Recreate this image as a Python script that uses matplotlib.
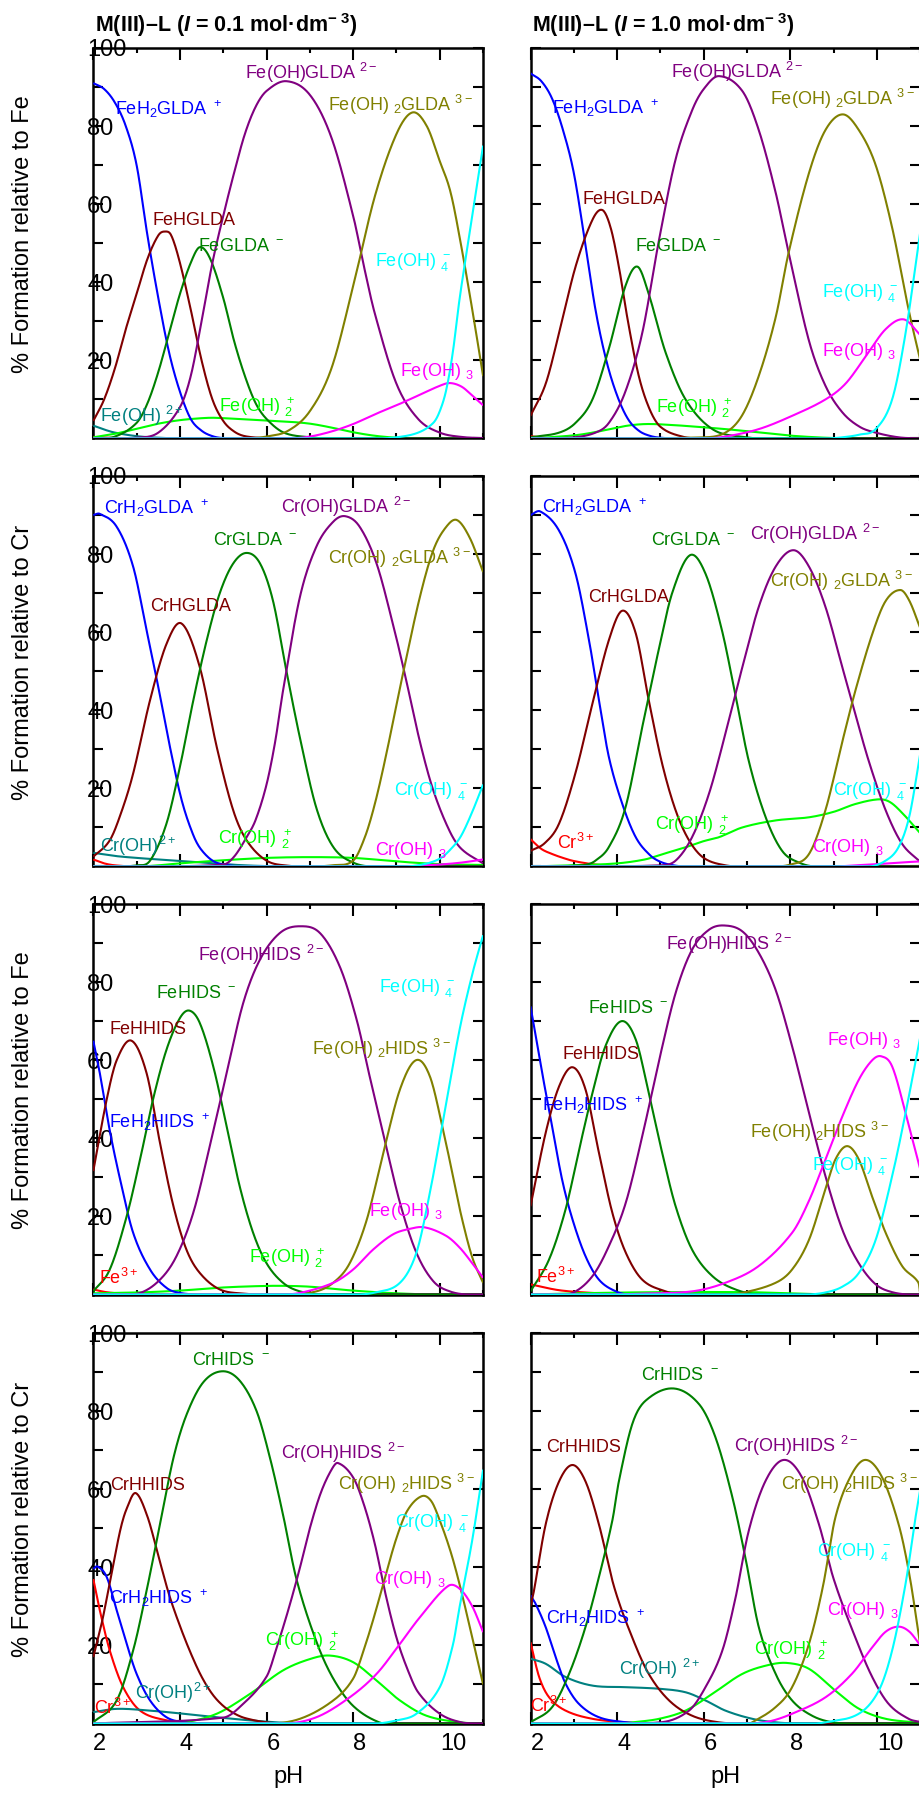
import numpy as np
import matplotlib
matplotlib.use("Agg")
import matplotlib.pyplot as plt
from matplotlib.ticker import MultipleLocator, FuncFormatter

plt.rcParams['font.family'] = ['Liberation Sans', 'DejaVu Sans']
plt.rcParams['mathtext.fontset'] = 'custom'
plt.rcParams['mathtext.rm'] = 'Liberation Sans'
plt.rcParams['mathtext.sf'] = 'Liberation Sans'
plt.rcParams['mathtext.it'] = 'Liberation Sans:italic:bold'
plt.rcParams['mathtext.bf'] = 'Liberation Sans:bold'

# ------------------------------------------------------------------
# Data: (pH, % formation) pairs per species
# ------------------------------------------------------------------
# --- Fe / GLDA, I = 0.1 ---
FeGLDA01_M = [(2.0, 0.4), (2.5, 0.1), (3.0, 0)]
FeGLDA01_MOH = [(2.0, 3.3), (2.25, 2.3), (2.5, 1.5), (3.0, 0.6), (3.5, 0.2), (4.0, 0.05), (4.5, 0)]
FeGLDA01_MOH2 = [(2.0, 0.3), (2.5, 1.2), (3.0, 2.5), (3.5, 3.8), (4.0, 4.7), (4.5, 5.2), (4.8, 5.3),
                 (5.5, 4.9), (6.0, 4.6), (6.5, 4.3), (7.0, 3.8), (7.5, 2.8), (8.0, 1.6), (8.5, 0.7),
                 (9.0, 0.2), (9.5, 0)]
FeGLDA01_H2L = [(2.0, 91), (2.25, 89.5), (2.5, 86), (2.75, 80), (3.0, 70), (3.25, 52), (3.5, 36),
                (3.75, 22), (4.0, 12), (4.25, 5), (4.5, 2), (4.75, 0.6), (5.0, 0.1), (5.5, 0)]
FeGLDA01_HL = [(2.0, 4.5), (2.25, 10), (2.5, 18), (2.75, 28), (3.0, 37), (3.25, 46), (3.5, 52),
               (3.65, 53), (3.8, 52), (4.0, 45), (4.25, 33), (4.5, 20), (4.75, 10), (5.0, 4.5),
               (5.25, 1.8), (5.5, 0.6), (6.0, 0.1), (6.5, 0)]
FeGLDA01_L = [(2.0, 0), (2.5, 0.5), (3.0, 4), (3.25, 9), (3.5, 17), (3.75, 27), (4.0, 37), (4.25, 45),
              (4.46, 49), (4.7, 46), (5.0, 36), (5.25, 25), (5.5, 16), (5.75, 9), (6.0, 5), (6.4, 1.5),
              (7.0, 0.3), (7.5, 0)]
FeGLDA01_MOHL = [(3.0, 0.2), (3.5, 1.5), (4.0, 8), (4.25, 16), (4.5, 30), (4.75, 45), (5.0, 57),
                 (5.25, 68), (5.5, 78), (5.75, 85), (6.0, 89), (6.46, 91.5), (7.0, 88), (7.5, 77),
                 (8.0, 57), (8.25, 44), (8.5, 32), (9.0, 14), (9.5, 5), (10.0, 1.5), (10.5, 0.4),
                 (11.0, 0.1)]
FeGLDA01_MOH2L = [(5.5, 0), (6.0, 0.5), (6.5, 2), (7.0, 7), (7.5, 18), (8.0, 39), (8.5, 62), (9.0, 78),
                  (9.37, 83.5), (9.7, 80), (10.0, 71), (10.25, 63), (10.5, 49), (10.75, 33), (11.0, 16)]
FeGLDA01_MOH3 = [(6.5, 0), (7.0, 0.5), (7.5, 1.8), (8.0, 3.7), (8.5, 6.2), (9.0, 8.5), (9.5, 11),
                 (10.0, 13.5), (10.23, 14.2), (10.5, 13.3), (10.75, 11), (11.0, 8.5)]
FeGLDA01_MOH4 = [(8.5, 0), (9.0, 0.3), (9.5, 1.5), (9.85, 4), (10.0, 7), (10.15, 12.5), (10.3, 22),
                 (10.46, 36), (10.75, 57), (11.0, 75)]

# --- Fe / GLDA, I = 1.0 ---
FeGLDA10_M = [(2.0, 0.6), (2.4, 0.1), (3.0, 0)]
FeGLDA10_MOH2 = [(2.0, 0), (3.0, 0.8), (3.43, 1.5), (4.19, 3.2), (4.66, 3.7), (5.2, 3.5), (5.73, 3.1),
                 (6.3, 2.6), (6.89, 2.0), (7.5, 1.3), (8.04, 0.7), (8.8, 0.2), (9.5, 0)]
FeGLDA10_H2L = [(2.0, 93.5), (2.25, 91.5), (2.5, 87), (2.75, 79), (3.0, 68), (3.25, 51), (3.5, 33),
                (3.75, 20), (4.0, 11), (4.25, 5), (4.5, 2), (4.75, 0.7), (5.0, 0.2), (5.5, 0)]
FeGLDA10_HL = [(2.0, 5.8), (2.35, 14), (2.66, 27), (3.04, 44), (3.43, 56), (3.66, 58.5), (3.85, 54),
               (4.04, 44), (4.25, 30), (4.5, 16), (4.75, 7.5), (5.0, 3), (5.5, 0.5), (6.0, 0)]
FeGLDA10_L = [(2.0, 0.3), (2.66, 1.5), (3.04, 4), (3.43, 10), (3.81, 23), (4.19, 39), (4.47, 44),
              (4.73, 37), (5.12, 22), (5.58, 10), (6.2, 2.4), (6.9, 0.4), (7.5, 0)]
FeGLDA10_MOHL = [(3.0, 0.3), (3.5, 1.5), (3.81, 4), (4.19, 12), (4.58, 27), (4.97, 51), (5.35, 71.5),
                 (5.73, 84), (6.0, 89.5), (6.35, 92.8), (6.89, 89), (7.27, 79), (7.66, 63), (7.96, 47.6),
                 (8.43, 25), (8.81, 13.5), (9.2, 6.7), (9.6, 3), (9.97, 1.5), (10.5, 0.3), (11.0, 0)]
FeGLDA10_MOH2L = [(6.0, 0.3), (6.5, 1.5), (6.89, 6), (7.27, 16), (7.66, 31), (7.96, 47.6), (8.43, 68),
                  (8.81, 79), (9.21, 83), (9.58, 79), (9.97, 70), (10.35, 54), (10.73, 33), (11.0, 20)]
FeGLDA10_MOH3 = [(6.0, 0), (6.5, 0.5), (7.27, 2.4), (8.04, 5.8), (8.81, 10), (9.27, 14), (9.74, 21),
                 (10.2, 28), (10.62, 30.5), (11.0, 26.5)]
FeGLDA10_MOH4 = [(8.8, 0), (9.2, 0.3), (9.6, 1), (9.97, 2.4), (10.35, 10), (10.66, 27), (11.0, 53)]

# --- Cr / GLDA, I = 0.1 ---
CrGLDA01_M = [(2.0, 1.8), (2.25, 0.8), (2.5, 0.3), (3.0, 0)]
CrGLDA01_MOH = [(2.0, 3.5), (2.5, 2.7), (3.0, 2.2), (3.5, 1.8), (4.0, 1.4), (4.5, 1.0), (5.0, 0.6),
                (5.5, 0.3), (6.0, 0.1), (6.5, 0)]
CrGLDA01_MOH2 = [(3.0, 0), (3.5, 0.3), (4.0, 0.8), (5.0, 1.6), (6.0, 2.2), (7.0, 2.4), (8.0, 2.2),
                 (9.0, 1.3), (10.0, 0.6), (11.0, 0.4)]
CrGLDA01_H2L = [(2.0, 90), (2.15, 90.3), (2.54, 87), (2.92, 76.8), (3.23, 60.5), (3.5, 46), (3.77, 30.6),
                (4.04, 17), (4.31, 8), (4.5, 4.2), (4.8, 1.2), (5.2, 0.2), (5.5, 0)]
CrGLDA01_HL = [(2.0, 2.5), (2.38, 6.7), (2.65, 14), (2.92, 23.8), (3.31, 42.6), (3.69, 57), (4.04, 62.2),
               (4.46, 51), (4.85, 30.6), (5.23, 14.4), (5.54, 6.7), (6.0, 1.5), (6.5, 0.2), (7.0, 0)]
CrGLDA01_L = [(2.5, 0), (3.0, 0.3), (3.31, 1.5), (3.69, 11), (4.0, 25.5), (4.31, 42.6), (4.62, 58),
              (4.92, 70), (5.23, 77.6), (5.54, 80.3), (5.85, 77.6), (6.15, 68), (6.46, 50), (6.77, 33),
              (7.15, 15), (7.54, 5), (8.0, 1), (8.5, 0)]
CrGLDA01_MOHL = [(5.0, 0.5), (5.25, 2.5), (5.54, 7.5), (5.75, 12), (6.0, 21), (6.2, 32), (6.38, 45),
                 (6.77, 69), (7.15, 81.9), (7.54, 88.3), (7.82, 89.7), (8.15, 87), (8.54, 77.6),
                 (8.92, 62), (9.19, 49.4), (9.54, 32), (9.85, 19.5), (10.23, 9), (10.5, 4.5), (11.0, 0.8)]
CrGLDA01_MOH2L = [(7.0, 0), (7.5, 0.3), (8.0, 1.5), (8.27, 7.5), (8.5, 16), (8.75, 28), (9.15, 49.4),
                  (9.54, 69), (9.85, 81), (10.15, 87), (10.4, 88.7), (10.7, 84), (11.0, 75.4)]
CrGLDA01_MOH3 = [(9.0, 0), (9.5, 0.2), (10.0, 0.5), (10.5, 1.0), (11.0, 1.8)]
CrGLDA01_MOH4 = [(9.0, 0), (9.5, 0.3), (10.0, 2), (10.3, 5), (10.5, 8), (10.75, 14), (11.0, 21)]

# --- Cr / GLDA, I = 1.0 ---
CrGLDA10_M = [(2.0, 7), (2.25, 4.5), (2.5, 3.2), (2.75, 2.2), (3.0, 1.4), (3.5, 0.5), (4.0, 0.1), (4.5, 0)]
CrGLDA10_MOH2 = [(2.0, 0), (3.0, 0.3), (4.0, 0.8), (4.64, 1.8), (5.0, 3), (5.6, 5), (6.0, 6.5),
                 (6.35, 7.5), (6.89, 10), (7.66, 11.8), (8.43, 12.6), (9.0, 14), (9.5, 16),
                 (10.04, 17.2), (10.3, 16.5), (10.6, 13.5), (11.0, 8.5)]
CrGLDA10_H2L = [(2.0, 90), (2.23, 90.9), (2.66, 86), (3.04, 75), (3.35, 58), (3.58, 42.6), (3.81, 28),
                (4.12, 16), (4.43, 7.5), (4.75, 3), (5.0, 1.2), (5.3, 0.3), (5.6, 0)]
CrGLDA10_HL = [(2.0, 4), (2.33, 6), (2.66, 11), (3.04, 24), (3.43, 41.7), (3.81, 58), (4.12, 65.5),
               (4.43, 59.7), (4.73, 42.6), (5.04, 26.3), (5.35, 14.4), (5.66, 6.7), (6.0, 2.2),
               (6.5, 0.3), (7.0, 0)]
CrGLDA10_L = [(2.5, 0), (3.0, 0.2), (3.3, 0.5), (3.5, 1.5), (3.81, 5), (4.19, 15), (4.58, 35.7),
              (4.97, 56), (5.27, 70), (5.68, 79.7), (6.04, 75), (6.42, 60.5), (6.73, 44), (7.04, 27),
              (7.43, 12.6), (7.81, 4), (8.2, 1), (8.6, 0)]
CrGLDA10_MOHL = [(5.0, 0.3), (5.35, 1.5), (5.73, 7.5), (6.12, 18.6), (6.5, 34), (6.89, 51), (7.27, 66.5),
                 (7.66, 76.8), (8.07, 81), (8.43, 76.8), (8.81, 66.5), (9.2, 51), (9.5, 39),
                 (9.81, 27), (10.2, 14.4), (10.58, 5.8), (11.0, 1.2)]
CrGLDA10_MOH2L = [(7.5, 0), (8.0, 0.5), (8.43, 3.2), (8.81, 14.4), (9.2, 32), (9.5, 45), (9.89, 59.5),
                  (10.2, 68), (10.54, 70.8), (10.75, 68), (11.0, 61)]
CrGLDA10_MOH3 = [(9.0, 0), (9.5, 0.3), (10.0, 0.6), (10.5, 1.0), (11.0, 1.3)]
CrGLDA10_MOH4 = [(9.8, 0), (10.2, 1.5), (10.5, 5), (10.75, 13), (11.0, 29)]

# --- Fe / HIDS, I = 0.1 ---
FeHIDS01_M = [(2.0, 1.3), (2.3, 0.6), (2.8, 0.1), (3.2, 0)]
FeHIDS01_MOH2 = [(2.0, 0.3), (3.0, 0.5), (4.0, 1), (5.0, 1.8), (6.0, 2.2), (6.5, 2.2), (7.0, 2.0),
                 (7.5, 1.5), (8.0, 1), (9.0, 0.3), (10.0, 0)]
FeHIDS01_H2L = [(2.0, 65), (2.15, 56.7), (2.38, 42), (2.62, 29.4), (2.92, 15.8), (3.31, 6.4),
                (3.69, 1.7), (4.0, 0.4), (4.5, 0)]
FeHIDS01_HL = [(2.0, 31.6), (2.31, 50), (2.54, 60), (2.88, 65), (3.23, 56.7), (3.54, 38.8), (3.85, 22.6),
               (4.15, 11.5), (4.46, 5.5), (4.92, 1.3), (5.5, 0.2), (6.0, 0)]
FeHIDS01_L = [(2.0, 0.8), (2.38, 6.4), (2.77, 20), (3.08, 34.6), (3.38, 50), (3.69, 62.7), (4.0, 70.8),
              (4.22, 72.7), (4.46, 69.5), (4.77, 58.4), (5.08, 43), (5.38, 27.7), (5.69, 15.8),
              (6.0, 8), (6.38, 3), (6.77, 0.8), (7.3, 0)]
FeHIDS01_MOHL = [(2.5, 0), (3.08, 0.4), (3.54, 3.8), (3.92, 9.8), (4.31, 21), (4.69, 38), (5.08, 56.7),
                 (5.46, 74.6), (5.85, 85.8), (6.31, 92.6), (6.77, 94.3), (7.23, 92.6), (7.69, 84),
                 (8.08, 70.4), (8.38, 55.9), (8.69, 41.4), (9.08, 23.5), (9.46, 10.7), (9.85, 3.4),
                 (10.23, 0.8), (10.7, 0)]
FeHIDS01_MOH2L = [(6.5, 0), (7.15, 0.8), (7.54, 3), (7.92, 8), (8.31, 19), (8.69, 36), (9.08, 52.5),
                  (9.45, 60), (9.77, 55.9), (10.08, 42), (10.3, 30.5), (10.5, 20), (10.75, 9.5), (11.0, 3)]
FeHIDS01_MOH3 = [(6.3, 0), (6.77, 0.4), (7.54, 3), (8.0, 6.4), (8.46, 11.5), (8.92, 15.4), (9.3, 16.8),
                 (9.65, 17.2), (10.15, 15), (10.46, 12), (10.75, 8), (11.0, 4.3)]
FeHIDS01_MOH4 = [(8.0, 0), (8.5, 0.5), (9.08, 3), (9.46, 10.7), (9.77, 26), (10.08, 44.8), (10.46, 68),
                 (10.75, 82), (11.0, 92)]

# --- Fe / HIDS, I = 1.0 ---
FeHIDS10_M = [(2.0, 2.6), (2.66, 1.1), (3.43, 0.4), (4.0, 0.1), (4.5, 0)]
FeHIDS10_MOH2 = [(2.0, 0), (3.0, 0.3), (5.0, 0.6), (7.0, 0.6), (8.0, 0.3), (9.0, 0)]
FeHIDS10_H2L = [(2.0, 73.8), (2.27, 56.7), (2.5, 43), (2.73, 29.4), (2.97, 19.2), (3.27, 9.8),
                (3.58, 3.8), (3.97, 0.8), (4.3, 0)]
FeHIDS10_HL = [(2.0, 22.6), (2.35, 41.4), (2.66, 53.3), (2.97, 58.2), (3.27, 52.5), (3.58, 36.3),
               (3.89, 20.9), (4.2, 10.7), (4.58, 3.8), (5.12, 0.8), (5.5, 0)]
FeHIDS10_L = [(2.0, 0.8), (2.43, 9), (2.81, 21.8), (3.12, 37), (3.43, 51.6), (3.73, 63.6), (4.1, 70),
              (4.43, 65.3), (4.73, 51.6), (5.04, 36.3), (5.35, 22.6), (5.73, 11.5), (6.2, 4.7),
              (6.73, 1.3), (7.3, 0)]
FeHIDS10_MOHL = [(2.5, 0), (2.97, 0.4), (3.43, 4.7), (3.81, 12.4), (4.2, 23.5), (4.58, 40.5), (4.97, 60),
                 (5.35, 77.2), (5.73, 88.3), (6.12, 93.4), (6.47, 94.5), (6.89, 93), (7.27, 87.5),
                 (7.66, 78), (8.04, 63.6), (8.43, 46.5), (8.81, 30.3), (9.2, 16.6), (9.58, 8),
                 (9.97, 2.6), (10.35, 0.6), (10.8, 0)]
FeHIDS10_MOH2L = [(6.5, 0), (6.89, 0.4), (7.66, 3), (8.04, 6.4), (8.43, 14), (8.81, 27), (9.04, 34.6),
                  (9.31, 38), (9.58, 34.6), (9.89, 25), (10.2, 15.8), (10.58, 7.3), (10.96, 3)]
FeHIDS10_MOH3 = [(4.0, 0), (4.5, 0.2), (5.73, 0.8), (6.5, 3), (7.27, 7.3), (8.04, 15.8), (8.43, 24),
                 (8.81, 34.6), (9.2, 45.6), (9.58, 55), (9.89, 60), (10.1, 61), (10.35, 58.4),
                 (10.66, 46.5), (11.0, 32)]
FeHIDS10_MOH4 = [(8.35, 0), (8.8, 0.5), (9.2, 2), (9.58, 5.5), (9.97, 14), (10.35, 30.3), (10.66, 46.5),
                 (11.0, 66)]

# --- Cr / HIDS, I = 0.1 ---
CrHIDS01_M = [(2.0, 37), (2.15, 29), (2.38, 18.7), (2.69, 9.3), (3.08, 3.3), (3.69, 0.8), (4.3, 0)]
CrHIDS01_MOH = [(2.0, 2.9), (2.54, 3.75), (3.31, 3.3), (4.08, 2.5), (4.85, 1.6), (5.62, 0.8),
                (6.38, 0.2), (7.0, 0)]
CrHIDS01_MOH2 = [(3.15, 0), (4.08, 0.3), (4.85, 2.5), (5.62, 7.6), (6.38, 13.6), (7.0, 16.5),
                 (7.46, 17.4), (8.0, 15.7), (8.54, 11), (9.08, 5.9), (9.69, 2), (10.46, 0.3), (11.0, 0)]
CrHIDS01_H2L = [(2.0, 39.6), (2.1, 40.2), (2.31, 37.5), (2.54, 29), (2.77, 20.4), (3.0, 12.7),
                (3.31, 5.9), (3.69, 1.6), (4.1, 0.3), (4.5, 0)]
CrHIDS01_HL = [(2.0, 17), (2.2, 26), (2.38, 36), (2.62, 49.4), (2.77, 55), (2.98, 59), (3.25, 53),
               (3.5, 43), (3.75, 33), (4.0, 25), (4.25, 18), (4.5, 12), (4.75, 7.5), (5.0, 4.5),
               (5.25, 2.6), (5.5, 1.4), (6.0, 0.3), (6.5, 0)]
CrHIDS01_L = [(2.0, 0.3), (2.54, 5.9), (2.92, 18.7), (3.23, 34), (3.54, 51), (3.85, 68), (4.15, 79),
              (4.54, 87.4), (4.98, 90.2), (5.38, 87.8), (5.77, 80), (6.08, 68), (6.38, 53.5),
              (6.69, 37), (7.15, 21), (7.54, 11.5), (8.0, 4.5), (8.6, 0.3), (9.0, 0)]
CrHIDS01_MOHL = [(5.0, 1.5), (5.38, 4.2), (6.0, 12), (6.25, 20), (6.5, 29), (6.75, 39), (7.0, 50),
                 (7.25, 59), (7.5, 65), (7.65, 66.7), (8.0, 63), (8.25, 56), (8.5, 46), (8.75, 33),
                 (9.0, 22), (9.25, 14), (9.5, 8), (10.0, 2.5), (10.5, 0.3), (11.0, 0)]
CrHIDS01_MOH2L = [(6.0, 0), (6.77, 1.2), (7.54, 5.9), (8.0, 11.5), (8.25, 19), (8.5, 28), (8.75, 38),
                  (9.0, 47.5), (9.25, 54.5), (9.58, 58.2), (9.8, 57), (10.0, 52), (10.25, 44),
                  (10.46, 35.5), (10.75, 22), (11.0, 10)]
CrHIDS01_MOH3 = [(6.38, 0), (7.15, 1.6), (7.92, 6.7), (8.54, 12.7), (9.08, 20.4), (9.54, 27.2),
                 (10.19, 35.2), (10.46, 34.5), (10.75, 30), (11.0, 23.4)]
CrHIDS01_MOH4 = [(8.5, 0), (9.0, 0.8), (9.46, 2.5), (10.0, 9.3), (10.3, 20), (10.46, 30), (10.75, 47),
                 (11.0, 65)]

# --- Cr / HIDS, I = 1.0 ---
CrHIDS10_M = [(2.0, 20.8), (2.2, 11.9), (2.43, 6.7), (2.81, 3.3), (3.43, 1.2), (4.2, 0.3), (4.8, 0)]
CrHIDS10_MOH = [(2.0, 16.6), (2.35, 15.3), (2.81, 11.9), (3.43, 9.7), (4.2, 9.3), (4.97, 8.9),
                (5.58, 8), (6.04, 5.9), (6.5, 3.3), (7.12, 1.2), (7.66, 0.3), (8.2, 0)]
CrHIDS10_MOH2 = [(4.0, 0), (4.35, 0.3), (4.97, 1.2), (5.58, 3.3), (6.2, 7.6), (6.89, 12.7), (7.5, 15),
                 (7.93, 15.5), (8.43, 14), (9.04, 8.4), (9.58, 3.8), (10.2, 1.2), (11.0, 0.2)]
CrHIDS10_H2L = [(2.0, 32.8), (2.12, 30.6), (2.35, 24.7), (2.58, 17), (2.81, 10.2), (3.12, 5),
                (3.58, 1.6), (4.2, 0.3), (4.6, 0)]
CrHIDS10_HL = [(2.0, 30), (2.08, 34), (2.35, 51), (2.66, 62), (2.97, 66.2), (3.27, 62), (3.58, 51),
               (3.93, 35), (4.35, 22), (4.73, 12.7), (5.2, 5.9), (5.73, 2), (6.35, 0.3), (7.0, 0)]
CrHIDS10_L = [(2.0, 0.3), (2.5, 4.2), (2.89, 12.7), (3.27, 24.7), (3.58, 37.5), (3.89, 52), (4.04, 62),
              (4.35, 76.7), (4.66, 82.7), (5.3, 85.8), (5.89, 81.8), (6.27, 73.3), (6.66, 58),
              (6.97, 42), (7.27, 24.7), (7.66, 12.7), (8.04, 5.9), (8.5, 2), (8.97, 0.3), (9.5, 0)]
CrHIDS10_MOHL = [(5.0, 0.3), (5.66, 3.3), (6.04, 9.3), (6.43, 18.7), (6.73, 32), (7.04, 49.4),
                 (7.43, 62.2), (7.85, 67.5), (8.27, 63), (8.66, 51), (9.0, 37), (9.5, 22), (9.89, 11.9),
                 (10.27, 5), (10.73, 1.2), (11.0, 0.4)]
CrHIDS10_MOH2L = [(7.0, 0), (7.12, 0.3), (7.66, 4.2), (8.04, 9.3), (8.43, 20.4), (8.75, 35),
                  (9.04, 52.8), (9.42, 63.9), (9.75, 67.5), (10.12, 63), (10.5, 51), (10.75, 38), (11.0, 20)]
CrHIDS10_MOH3 = [(7.0, 0), (7.5, 0.5), (8.04, 2.5), (8.81, 6.7), (9.42, 12.7), (9.89, 19.5), (10.2, 23.5),
                 (10.5, 24.8), (10.75, 23.5), (11.0, 20)]
CrHIDS10_MOH4 = [(8.5, 0), (8.81, 0.3), (9.58, 2.5), (10.04, 8.4), (10.35, 18.7), (10.66, 35.8),
                 (10.89, 52.8), (11.0, 60)]

# ------------------------------------------------------------------
# Species labels: (species, text, pH, %)
# ------------------------------------------------------------------
FeGLDA01_labels = [
    ('H2L', r'FeH$_2$GLDA $^+$', 2.5, 84.5), ('HL', 'FeHGLDA', 3.36, 56.3),
    ('L', r'FeGLDA $^-$', 4.42, 49.7), ('MOHL', r'Fe(OH)GLDA $^{2-}$', 5.5, 93.7),
    ('MOH2L', r'Fe(OH) $_2$GLDA $^{3-}$', 7.42, 85.5), ('MOH4', r'Fe(OH) $_4^-$', 8.5, 45.8),
    ('MOH3', r'Fe(OH) $_3$', 9.08, 17.7), ('MOH2', r'Fe(OH) $_2^+$', 4.9, 8.5),
    ('MOH', r'Fe(OH) $^{2+}$', 2.15, 5.9)]
FeGLDA10_labels = [
    ('H2L', r'FeH$_2$GLDA $^+$', 2.5, 84.7), ('HL', 'FeHGLDA', 3.21, 61.7),
    ('L', r'FeGLDA $^-$', 4.41, 49.7), ('MOHL', r'Fe(OH)GLDA $^{2-}$', 5.25, 93.9),
    ('MOH2L', r'Fe(OH) $_2$GLDA $^{3-}$', 7.52, 87.0), ('MOH4', r'Fe(OH) $_4^-$', 8.74, 37.8),
    ('MOH3', r'Fe(OH) $_3$', 8.74, 22.8), ('MOH2', r'Fe(OH) $_2^+$', 4.89, 8.3)]
CrGLDA01_labels = [
    ('H2L', r'CrH$_2$GLDA $^+$', 2.25, 92.0), ('HL', 'CrHGLDA', 3.32, 67.0),
    ('L', r'CrGLDA $^-$', 4.77, 84.0), ('MOHL', r'Cr(OH)GLDA $^{2-}$', 6.33, 92.3),
    ('MOH2L', r'Cr(OH) $_2$GLDA $^{3-}$', 7.41, 79.0), ('MOH4', r'Cr(OH) $_4^-$', 8.94, 20.0),
    ('MOH3', r'Cr(OH) $_3$', 8.5, 4.6), ('MOH2', r'Cr(OH) $_2^+$', 4.88, 7.5),
    ('MOH', r'Cr(OH)$^{2+}$', 2.15, 5.4)]
CrGLDA10_labels = [
    ('H2L', r'CrH$_2$GLDA $^+$', 2.26, 92.1), ('HL', 'CrHGLDA', 3.33, 69.5),
    ('L', r'CrGLDA $^-$', 4.78, 84.1), ('MOHL', r'Cr(OH)GLDA $^{2-}$', 7.06, 85.3),
    ('MOH2L', r'Cr(OH) $_2$GLDA $^{3-}$', 7.53, 73.3), ('MOH4', r'Cr(OH) $_4^-$', 8.99, 20.0),
    ('M', r'Cr$^{3+}$', 2.61, 6.2), ('MOH2', r'Cr(OH) $_2^+$', 4.88, 11.0),
    ('MOH3', r'Cr(OH) $_3$', 8.5, 5.4)]
FeHIDS01_labels = [
    ('M', r'Fe$^{3+}$', 2.13, 4.3), ('H2L', r'FeH$_2$HIDS $^+$', 2.37, 44.4),
    ('HL', 'FeHHIDS', 2.37, 68.3), ('L', r'FeHIDS $^-$', 3.45, 77.7),
    ('MOHL', r'Fe(OH)HIDS $^{2-}$', 4.41, 87.0), ('MOH2L', r'Fe(OH) $_2$HIDS $^{3-}$', 7.06, 63.0),
    ('MOH4', r'Fe(OH) $_4^-$', 8.6, 79.0), ('MOH3', r'Fe(OH) $_3$', 8.36, 21.8),
    ('MOH2', r'Fe(OH) $_2^+$', 5.6, 9.8)]
FeHIDS10_labels = [
    ('M', r'Fe$^{3+}$', 2.13, 4.7), ('H2L', r'FeH$_2$HIDS $^+$', 2.26, 48.7),
    ('HL', 'FeHHIDS', 2.75, 61.9), ('L', r'FeHIDS $^-$', 3.33, 73.8),
    ('MOHL', r'Fe(OH)HIDS $^{2-}$', 5.14, 89.9), ('MOH3', r'Fe(OH) $_3$', 8.85, 65.5),
    ('MOH2L', r'Fe(OH) $_2$HIDS $^{3-}$', 7.06, 41.8), ('MOH4', r'Fe(OH) $_4^-$', 8.5, 33.5)]
CrHIDS01_labels = [
    ('L', r'CrHIDS $^-$', 4.29, 93.4), ('MOHL', r'Cr(OH)HIDS $^{2-}$', 6.33, 69.5),
    ('HL', 'CrHHIDS', 2.39, 61.5), ('MOH2L', r'Cr(OH) $_2$HIDS $^{3-}$', 7.64, 61.4),
    ('MOH4', r'Cr(OH) $_4^-$', 8.96, 52.0), ('MOH3', r'Cr(OH) $_3$', 8.47, 37.5),
    ('H2L', r'CrH$_2$HIDS $^+$', 2.37, 32.2), ('MOH', r'Cr(OH)$^{2+}$', 2.96, 8.0),
    ('MOH2', r'Cr(OH) $_2^+$', 5.96, 21.4), ('M', r'Cr$^{3+}$', 2.02, 4.2)]
CrHIDS10_labels = [
    ('L', r'CrHIDS $^-$', 4.54, 89.5), ('HL', 'CrHHIDS', 2.37, 71.2),
    ('MOHL', r'Cr(OH)HIDS $^{2-}$', 6.7, 71.2), ('MOH2L', r'Cr(OH) $_2$HIDS $^{3-}$', 7.78, 61.5),
    ('MOH4', r'Cr(OH) $_4^-$', 8.62, 44.5), ('MOH3', r'Cr(OH) $_3$', 8.85, 29.4),
    ('MOH2', r'Cr(OH) $_2^+$', 7.16, 19.1), ('MOH', r'Cr(OH) $^{2+}$', 4.04, 14.0),
    ('H2L', r'CrH$_2$HIDS $^+$', 2.35, 27.2), ('M', r'Cr$^{3+}$', 2.0, 4.6)]

TITLES = [r'M(III)–L ($\mathit{I}$ = 0.1 mol·dm$^{\mathbf{-\ 3}}$)',
          r'M(III)–L ($\mathit{I}$ = 1.0 mol·dm$^{\mathbf{-\ 3}}$)']
YLABELS = ['% Formation relative to Fe', '% Formation relative to Cr',
           '% Formation relative to Fe', '% Formation relative to Cr']
XTICKS = [2, 4, 6, 8, 10]

COLORS = {'M': '#ff0000', 'MOH': '#008080', 'MOH2': '#00ff00', 'H2L': '#0000ff',
          'HL': '#800000', 'L': '#008000', 'MOHL': '#800080', 'MOH2L': '#808000',
          'MOH3': '#ff00ff', 'MOH4': '#00ffff'}


def curves_of(prefix):
    g = globals()
    out = {}
    for sp in ['M', 'MOH', 'MOH2', 'H2L', 'HL', 'L', 'MOHL', 'MOH2L', 'MOH3', 'MOH4']:
        name = f'{prefix}_{sp}'
        if name in g:
            out[sp] = g[name]
    return out


PANELS = [
    (0, 0, curves_of('FeGLDA01'), FeGLDA01_labels),
    (0, 1, curves_of('FeGLDA10'), FeGLDA10_labels),
    (1, 0, curves_of('CrGLDA01'), CrGLDA01_labels),
    (1, 1, curves_of('CrGLDA10'), CrGLDA10_labels),
    (2, 0, curves_of('FeHIDS01'), FeHIDS01_labels),
    (2, 1, curves_of('FeHIDS10'), FeHIDS10_labels),
    (3, 0, curves_of('CrHIDS01'), CrHIDS01_labels),
    (3, 1, curves_of('CrHIDS10'), CrHIDS10_labels),
]


def smooth_render(x, y, n=600):
    """Cubic Hermite (Catmull-Rom style slopes) for drawing a smooth line through the read points."""
    x = np.asarray(x, float)
    y = np.asarray(y, float)
    h = np.diff(x)
    d = np.diff(y) / h
    m = np.zeros_like(x)
    m[1:-1] = (y[2:] - y[:-2]) / (x[2:] - x[:-2])
    for k in range(1, len(x) - 1):
        if (y[k] <= 0.05 and (y[k - 1] <= 0.05 or y[k + 1] <= 0.05)):
            m[k] = 0.0
    m[0] = d[0]
    m[-1] = d[-1]
    xs = np.linspace(x[0], x[-1], n)
    idx = np.clip(np.searchsorted(x, xs) - 1, 0, len(x) - 2)
    t = (xs - x[idx]) / h[idx]
    h00 = 2 * t**3 - 3 * t**2 + 1
    h10 = t**3 - 2 * t**2 + t
    h01 = -2 * t**3 + 3 * t**2
    h11 = t**3 - t**2
    ys = h00 * y[idx] + h10 * h[idx] * m[idx] + h01 * y[idx + 1] + h11 * h[idx] * m[idx + 1]
    return xs, np.clip(ys, 0, 100)


W, H = 919, 1794
fig = plt.figure(figsize=(W / 100, H / 100), dpi=100)

COL_X = [93.3, 530.5]
AX_W = 389.8
ROW_TOP = [48, 476, 904, 1333]
AX_H = 390.5
CAP_HALF = 1.65  # half cap-height in % units, to place labels by their visual centre

for row, col, curves, labels in PANELS:
    x0 = COL_X[col]
    top = ROW_TOP[row]
    ax = fig.add_axes([x0 / W, 1 - (top + AX_H) / H, AX_W / W, AX_H / H])
    ax.set_xlim(2, 11)
    ax.set_ylim(0, 100)
    for sp, pts in curves.items():
        px = [p[0] for p in pts]
        py = [p[1] for p in pts]
        if px[0] > 2:
            px = [2.0] + px
            py = [0.0] + py
        if px[-1] < 11:
            px = px + [11.0]
            py = py + [0.0]
        xs, ys = smooth_render(px, py)
        ax.plot(xs, ys, color=COLORS[sp], lw=1.5, zorder=3, solid_capstyle='butt')
    for sp, txt, lx, ly in labels:
        ax.text(lx, ly - CAP_HALF, txt, color=COLORS[sp], fontsize=13, ha='left',
                va='baseline', zorder=5, clip_on=False)

    for s in ax.spines.values():
        s.set_linewidth(1.8)
    ax.xaxis.set_major_locator(MultipleLocator(2))
    ax.xaxis.set_minor_locator(MultipleLocator(1))
    ax.yaxis.set_major_locator(MultipleLocator(10))
    ax.yaxis.set_major_formatter(FuncFormatter(
        lambda v, p: f'{int(round(v))}' if (round(v) % 20 == 0 and v > 0) else ''))
    ax.tick_params(which='both', direction='in', top=True, right=True, width=1.5)
    ax.tick_params(axis='x', which='major', length=8.5, labelsize=17, pad=6.5)
    ax.tick_params(axis='x', which='minor', length=3.8)
    ax.tick_params(axis='y', which='major', length=7, labelsize=17, pad=4.5)
    ax.set_xticks(XTICKS)
    if row < 3:
        ax.tick_params(axis='x', labelbottom=False)
    else:
        plt.setp(ax.get_xticklabels(), ha='left')
        fig.text((x0 + AX_W / 2) / W, 1 - 1783 / H, 'pH', fontsize=17,
                 ha='center', va='baseline')
    if col == 1:
        ax.tick_params(axis='y', labelleft=False)
    else:
        plt.setp(ax.get_yticklabels(), ha='left')
        fig.text(23 / W, 1 - (top + AX_H / 2 - 9) / H, YLABELS[row], fontsize=17,
                 rotation=90, ha='center', va='center')

for col in range(2):
    fig.text((COL_X[col] + 1.5) / W, 1 - 25.5 / H, TITLES[col], fontsize=15.5,
             fontweight='bold', ha='left', va='center')

fig.savefig('out.png', dpi=100)
